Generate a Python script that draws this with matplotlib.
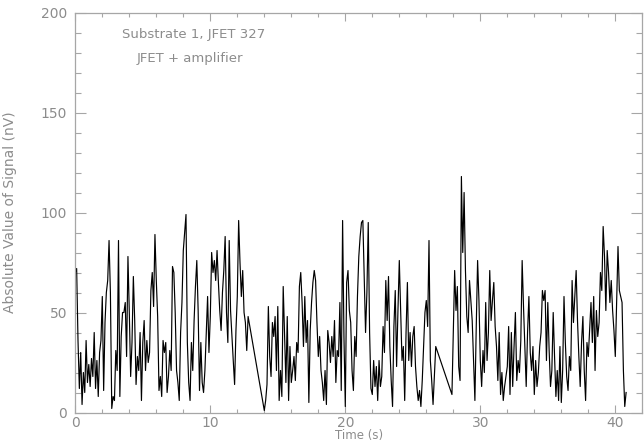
import numpy as np
import matplotlib
matplotlib.use("Agg")
import matplotlib.pyplot as plt
from matplotlib.ticker import MultipleLocator

dt = 0.1
seg1_start = 0.0
seg1 = [70, 72, 36, 12, 30, 4, 20, 10, 36, 15, 24, 13, 27, 18, 40, 12, 26, 8, 30, 36,
        58, 11, 45, 60, 66, 86, 60, 2, 8, 6, 31, 21, 86, 8, 38, 50, 50, 55, 28, 78,
        50, 18, 35, 68, 46, 14, 28, 21, 40, 6, 35, 46, 21, 36, 25, 30, 61, 70, 53, 89,
        66, 48, 11, 18, 8, 36, 30, 35, 10, 18, 31, 21, 73, 70, 50, 21, 15, 6, 40, 55,
        81, 90, 99, 35, 15, 6, 35, 21, 46, 63, 76, 51, 11, 35, 15, 10, 21, 40, 58, 30,
        48, 80, 70, 76, 66, 81, 65, 51, 41, 60, 71, 88, 50, 35, 86, 51, 38, 26, 14, 41,
        58, 96, 75, 58, 71, 50, 45, 31, 48]
seg2_start = 14.0
seg2 = [1, 6, 14, 53, 28, 18, 45, 38, 48, 21, 53, 6, 21, 8, 63, 38, 15, 48, 6, 33,
        15, 21, 28, 16, 35, 30, 63, 70, 55, 33, 58, 35, 46, 5, 41, 55, 65, 71, 66, 45,
        28, 38, 21, 15, 6, 21, 4, 41, 35, 25, 38, 28, 46, 15, 31, 28, 55, 11, 96, 38,
        3, 65, 71, 51, 45, 21, 11, 38, 28, 58, 78, 88, 95, 96, 68, 40, 60, 95, 40, 12,
        9, 26, 13, 23, 6, 26, 13, 18, 43, 30, 66, 46, 68, 33, 16, 3, 43, 61, 23, 51,
        76, 50, 26, 33, 6, 40, 65, 26, 40, 23, 38, 43, 23, 13, 6, 11, 3, 16, 33, 50,
        56, 43, 86, 26, 16, 4, 19, 33]
seg3_start = 27.9
seg3 = [9, 40, 71, 51, 63, 23, 16, 118, 80, 110, 71, 48, 40, 66, 56, 46, 26, 6, 43, 76,
        56, 26, 13, 31, 20, 55, 26, 40, 71, 46, 56, 65, 43, 33, 16, 40, 9, 20, 6, 13,
        18, 23, 43, 9, 40, 13, 33, 50, 16, 26, 20, 36, 76, 53, 33, 13, 40, 58, 30, 21,
        33, 9, 26, 13, 20, 33, 40, 61, 56, 61, 26, 55, 31, 13, 21, 50, 28, 8, 21, 6,
        33, 5, 21, 58, 35, 18, 11, 28, 21, 66, 45, 58, 71, 46, 28, 13, 35, 48, 21, 6,
        35, 28, 41, 55, 35, 58, 21, 51, 38, 45, 70, 61, 93, 78, 51, 81, 70, 55, 66, 51,
        41, 28, 55, 83, 61, 58, 55, 21, 3, 10]

annot_lines = ["Substrate 1, JFET 327", "JFET + amplifier"]
xlabel = "Time (s)"
ylabel = "Absolute Value of Signal (nV)"

# ---- assemble ----
t = np.concatenate([seg1_start + dt * np.arange(len(seg1)),
                    seg2_start + dt * np.arange(len(seg2)),
                    seg3_start + dt * np.arange(len(seg3))])
v = np.array(seg1 + seg2 + seg3, dtype=float)

fig = plt.figure(figsize=(6.44, 4.43), dpi=100)
ax = fig.add_axes([75.3 / 644, 1 - 412.5 / 443, (642.3 - 75.3) / 644, 400 / 443])

ax.plot(t, v, color="black", lw=0.85)

ax.set_xlim(0, 42)
ax.set_ylim(0, 200)

grey = "#8c8c8c"
axcol = "#a6a6a6"
for s in ax.spines.values():
    s.set_color(axcol)
    s.set_linewidth(0.9)

ax.xaxis.set_major_locator(MultipleLocator(10))
ax.xaxis.set_minor_locator(MultipleLocator(2))
ax.yaxis.set_major_locator(MultipleLocator(50))
ax.yaxis.set_minor_locator(MultipleLocator(10))
ax.tick_params(axis="both", which="both", direction="in", top=True, right=True,
               color=axcol, labelcolor=grey, labelsize=10, width=0.8)
ax.tick_params(axis="x", which="major", length=5.8, pad=2.5)
ax.tick_params(axis="x", which="minor", length=2.9)
ax.tick_params(axis="y", which="major", length=7.9, pad=6)
ax.tick_params(axis="y", which="minor", length=4.0)

ax.set_xlabel(xlabel, color=grey, fontsize=8.5, va="bottom")
ax.xaxis.set_label_coords(0.5, -(442 - 412.5) / 400)
ax.set_ylabel(ylabel, color=grey, fontsize=10, labelpad=17)

ax.text(3.44, 189, annot_lines[0], color=grey, fontsize=9.5, ha="left", va="center")
ax.text(4.57, 177, annot_lines[1], color=grey, fontsize=9.5, ha="left", va="center")

fig.savefig("out.png", dpi=100)
